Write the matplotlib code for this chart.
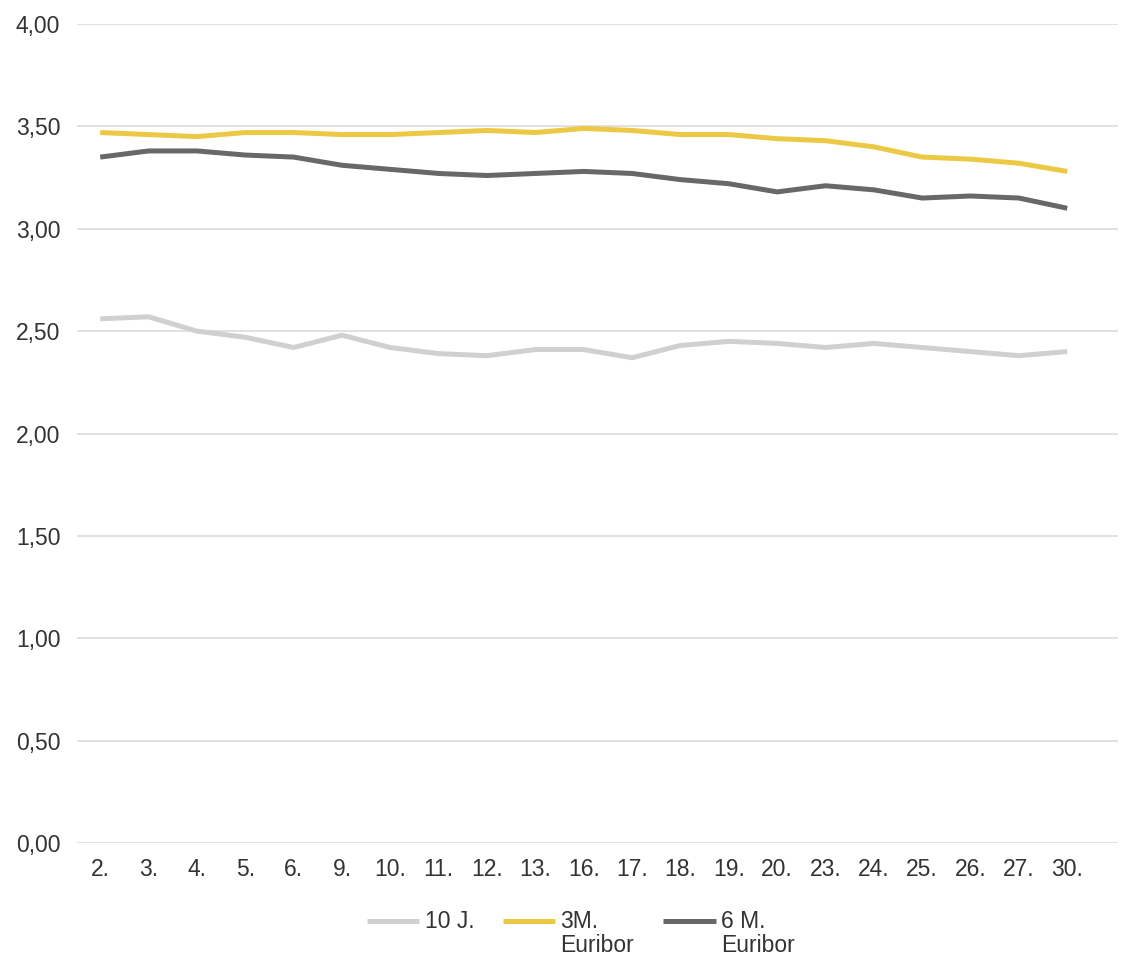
import matplotlib
matplotlib.use("Agg")
import matplotlib.pyplot as plt
import numpy as np

categories = ["2.", "3.", "4.", "5.", "6.", "9.", "10.", "11.", "12.", "13.", "16.",
              "17.", "18.", "19.", "20.", "23.", "24.", "25.", "26.", "27.", "30."]
series_10j = [2.56, 2.57, 2.50, 2.47, 2.42, 2.48, 2.42, 2.39, 2.38, 2.41, 2.41,
              2.37, 2.43, 2.45, 2.44, 2.42, 2.44, 2.42, 2.40, 2.38, 2.40]
series_3m = [3.47, 3.46, 3.45, 3.47, 3.47, 3.46, 3.46, 3.47, 3.48, 3.47, 3.49,
             3.48, 3.46, 3.46, 3.44, 3.43, 3.40, 3.35, 3.34, 3.32, 3.28]
series_6m = [3.35, 3.38, 3.38, 3.36, 3.35, 3.31, 3.29, 3.27, 3.26, 3.27, 3.28,
             3.27, 3.24, 3.22, 3.18, 3.21, 3.19, 3.15, 3.16, 3.15, 3.10]
labels = ["10 J.\n ", "3M.\nEuribor", "6 M.\nEuribor"]
y_ticks = [0.0, 0.5, 1.0, 1.5, 2.0, 2.5, 3.0, 3.5, 4.0]

plt.rcParams['font.family'] = ['Liberation Sans', 'DejaVu Sans']
FS = 16.5
TXT = '#333333'

fig = plt.figure(figsize=(11.23, 9.60), dpi=100)
ax = fig.add_axes([77 / 1123, 1 - 843 / 960, (1118 - 77) / 1123, (843 - 24) / 960])

x = np.arange(len(categories))
l1, = ax.plot(x, series_10j, color='#d0d0d0', lw=3.6, solid_capstyle='butt', solid_joinstyle='round', label=labels[0])
l2, = ax.plot(x, series_3m, color='#ebc944', lw=3.6, solid_capstyle='butt', solid_joinstyle='round', label=labels[1])
l3, = ax.plot(x, series_6m, color='#686868', lw=3.6, solid_capstyle='butt', solid_joinstyle='round', label=labels[2])

ax.set_ylim(0, 4)
ax.set_xlim(-0.48, 21.05)
ax.set_yticks(y_ticks)
ax.set_yticklabels([f"{v:.2f}".replace('.', ',') for v in y_ticks])
ax.set_xticks(x)
ax.set_xticklabels(categories)
ax.tick_params(axis='both', length=0, labelsize=FS, colors=TXT)
ax.tick_params(axis='y', pad=12)
ax.tick_params(axis='x', pad=11)
ax.grid(axis='y', color='#d9d9d9', lw=1.1)
ax.set_axisbelow(True)
for s in ax.spines.values():
    s.set_visible(False)

LS = 1.05
leg = fig.legend(handles=[l1, l2, l3], labels=labels, loc='upper center',
                 bbox_to_anchor=(0.517, 1 - 899 / 960), ncol=3, frameon=False,
                 fontsize=FS, handlelength=2.3, handletextpad=0.22,
                 columnspacing=1.25, borderpad=0, labelcolor=TXT)
for t in leg.texts:
    t.set_linespacing(LS)
shift = 0.5 * LS * 0.76 * FS + 3.5
for h in leg.legend_handles:
    h.set_ydata(np.asarray(h.get_ydata()) + shift)

fig.savefig("out.png", dpi=100, facecolor='white')
